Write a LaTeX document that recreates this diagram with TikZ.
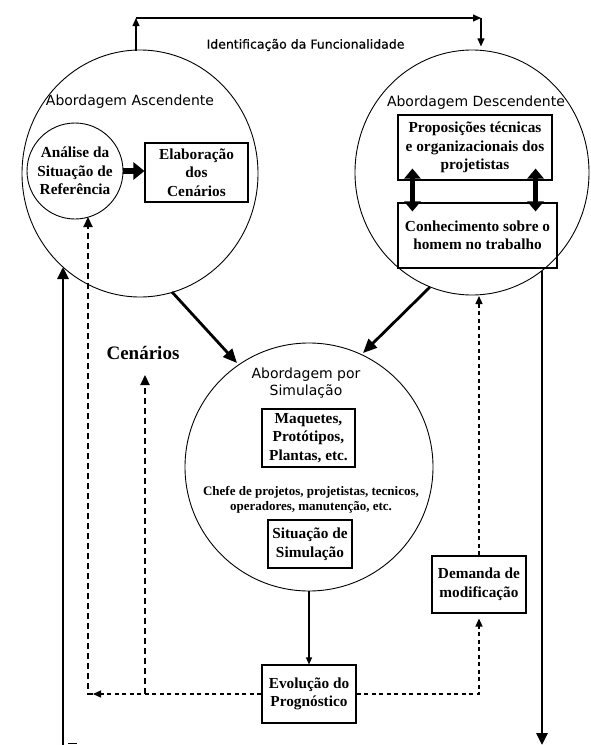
\documentclass[tikz,border=0pt]{standalone}
\usepackage{fontspec}
\setmainfont{Liberation Serif}
\newfontfamily\sansf{DejaVu Sans}
\newfontfamily\sansb{DejaVu Sans}[FakeBold=0.6]
\usetikzlibrary{arrows.meta,shapes.geometric,calc}
\newcommand\bxf{\fontsize{15.3}{18.5}\selectfont\bfseries}
\newcommand\smf{\fontsize{13}{15}\selectfont\bfseries}
\begin{document}
\begin{tikzpicture}[x=1pt,y=-1pt,
  bigc/.style={draw, ellipse, line width=0.9pt, inner sep=0pt},
  box/.style={draw, line width=1.1pt, inner sep=0pt, align=center, font=\bxf},
  ttl/.style={font=\sansf\fontsize{14}{17}\selectfont, align=center, inner sep=0pt},
  thin/.style={line width=1.1pt, -{Triangle[length=8pt,width=7pt]}},
  fat/.style={line width=2.8pt, -{Triangle[length=14pt,width=12pt]}},
  dshk/.style={line width=2.3pt, dash pattern=on 6pt off 4pt, -{Triangle[length=10pt,width=9pt]}},
  dshm/.style={line width=1.3pt, dash pattern=on 4pt off 3.5pt, -{Triangle[length=8pt,width=7pt]}},
  dbl/.style={line width=5pt, {Triangle[length=10pt,width=16pt]}-{Triangle[length=10pt,width=16pt]}},
]
\useasboundingbox (0,0) rectangle (590,745);
\fill[white] (0,0) rectangle (590,745);

% big circles
\node[bigc, minimum width=236, minimum height=247] (lc) at (140,173.5) {};
\node[bigc, minimum width=234, minimum height=245] (rc) at (472,172.5) {};
\node[bigc, minimum width=248, minimum height=248] (mc) at (309,467) {};

% titles
\node[ttl] (lct) at (130,102) {Abordagem Ascendente};
\node[ttl] (rct) at (476,103) {Abordagem Descendente};
\node[ttl] (mct) at (306,383.5) {Abordagem por\\Simulação};
\node[font=\sansb\fontsize{12.5}{15}\selectfont, inner sep=0pt] (idf) at (305.5,45) {Identificação da Funcionalidade};

% left circle content
\node[draw, circle, line width=0.9pt, minimum size=96, inner sep=0pt] (an) at (75,171) {};
\node[font=\bxf, align=center, inner sep=0pt] (ant) at (75,171) {Análise da\\Situação de\\Referência};
\node[box, minimum width=103, minimum height=59] (el) at (196.5,172.5) {Elaboração\\dos\\Cenários};
\draw[line width=6pt, -{Triangle[length=11pt,width=17pt]}] (an.east) -- (an.east -| el.west);

% right circle content
\node[box, minimum width=154, minimum height=65] (pr) at (475,147.5) {Proposições técnicas\\e organizacionais dos\\projetistas};
\node[box, minimum width=159, minimum height=65] (co) at (477.5,235.5) {Conhecimento sobre o\\homem no trabalho};
\draw[dbl] ([xshift=15pt,yshift=12pt]pr.south west) -- ([xshift=15pt,yshift=-9pt]co.north west);
\draw[dbl] ([xshift=-17pt,yshift=12pt]pr.south east) -- ([xshift=-22pt,yshift=-9pt]co.north east);

% middle circle content
\node[box, minimum width=93, minimum height=58] (mq) at (308.5,438) {Maquetes,\\Protótipos,\\Plantas, etc.};
\node[font=\smf, align=center, inner sep=0pt] (ch) at (311,500) {Chefe de projetos, projetistas, tecnicos,\\operadores, manutenção, etc.};
\node[box, minimum width=84, minimum height=48] (si) at (310,544) {Situação de\\Simulação};

% lower boxes
\node[box, minimum width=94, minimum height=57] (dm) at (479,584.5) {Demanda de\\modificação};
\node[box, minimum width=94, minimum height=58] (ev) at (309,694) {Evolução do\\Prognóstico};
\node[font=\fontsize{19}{22}\selectfont\bfseries, inner sep=0pt] (cen) at (143,353) {Cenários};

% coordinates
\coordinate (lctop) at (136,50.5);
\coordinate (t1) at (136,18);
\coordinate (t2) at (481,18);
\coordinate (rctop) at (481,50.4);
\coordinate (lcb) at (172,292);
\coordinate (mcl) at (237,363);
\coordinate (rcb) at (430,287);
\coordinate (mcr) at (363,353);
\coordinate (lb) at (63,748);
\coordinate (lcl) at (63,267);
\coordinate (rcr) at (542,271);
\coordinate (rb) at (542,745);
\coordinate (c1) at (88,694);
\coordinate (c1r) at (93,694);
\coordinate (anb) at (88,217);
\coordinate (c2) at (145,694);
\coordinate (c3) at (145,375);
\coordinate (c4) at (479,694);
\coordinate (rcbot) at (479,296);

% top connector
\draw[thin] (lctop) -- (t1);
\draw[thin] (t1) -- (t2);
\draw[thin] (t2) -- ([yshift=4pt]rctop);

% thick connectors
\draw[fat] (lcb) -- (mcl);
\draw[fat] (rcb) -- (mcr);
\draw[line width=2.8pt, -{Triangle[length=12pt,width=11pt]}] (lb) -- (lcl);
\draw[line width=2.8pt, -{Triangle[length=12pt,width=11pt]}] (rcr) -- (rb);
\draw[line width=1.5pt] (68,743.5) -- (77,743.5);

% thin arrow down
\draw[line width=1.1pt, -{Triangle[length=7pt,width=6pt]}] (mc.south) -- (mc.south |- ev.north);

% dashed feedback
\draw[dshm] (ev.west) -- (c1r);
\draw[dshk] (c1r) -- (c1) -- (anb);
\draw[dshk] (c2) -- (c3);
\draw[dshm] (ev.east) -- (c4) -- ([yshift=-5pt]dm.south);
\draw[dshm] (dm.north) -- (rcbot);
\end{tikzpicture}
\end{document}
